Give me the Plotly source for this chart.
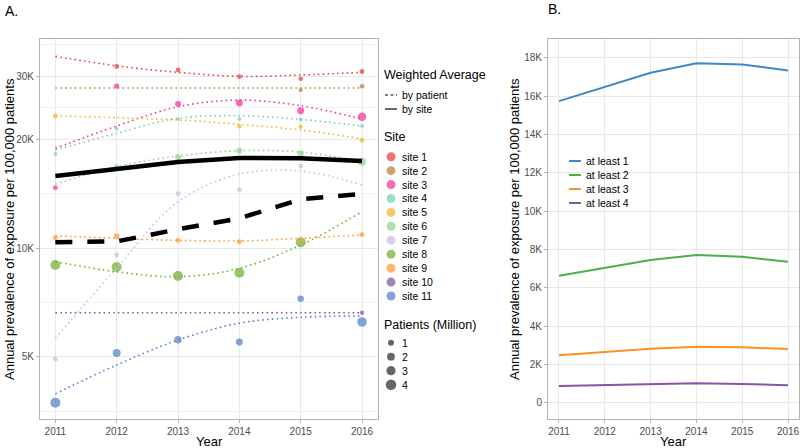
import plotly.graph_objects as go

W, H = 800, 448

years = [2011, 2012, 2013, 2014, 2015, 2016]

sites = ["site 1", "site 2", "site 3", "site 4", "site 5", "site 6",
         "site 7", "site 8", "site 9", "site 10", "site 11"]
site_colors = ["#E8464B", "#B98646", "#F23A9C", "#7ED0BC", "#EEB933", "#93D497",
               "#CDBFE2", "#76B23C", "#FF9A3A", "#8856AE", "#5886CA"]

# observed annual prevalence per 100,000 patients (None = no point)
site1_prev = [None, 31900, 31200, 29900, 29500, 30900]
site2_prev = [None, None, None, None, 27450, 28110]
site3_prev = [14720, 28160, 25100, 25260, 24050, 23150]
site4_prev = [18250, 21490, 22810, 22810, 22760, 21820]
site5_prev = [23260, None, None, 21750, 21720, 19920]
site6_prev = [None, 16830, 17870, 18640, 18330, 17380]
site7_prev = [4935, 9580, 14160, 14530, 16900, None]
site8_prev = [8990, 8875, 8380, 8560, 10390, None]
site9_prev = [10700, 10820, 10520, 10430, 10540, 10900]
site10_prev = [None, None, None, None, None, 6630]
site11_prev = [3735, 5130, 5580, 5500, 7250, 6250]

# smoothed trend per site
site1_fit = [34030, 32050, 30730, 29960, 30210, 30730]
site2_fit = [27800, 27800, 27800, 27800, 27800, 27800]
site3_fit = [18920, 21820, 24670, 25750, 24830, 22810]
site4_fit = [18720, 20830, 22920, 23300, 22760, 21820]
site5_fit = [23260, 23010, 22670, 22060, 21270, 20120]
site6_fit = [15040, 16830, 18020, 18640, 18480, 17380]
site7_fit = [5630, 8820, 13460, 16060, 16370, 14970]
site8_fit = [9180, 8610, 8340, 8800, 10210, 12630]
site9_fit = [10820, 10660, 10520, 10480, 10660, 10890]
site10_fit = [6630, 6630, 6630, 6630, 6630, 6630]
site11_fit = [3950, 4750, 5570, 6200, 6440, 6490]

# patients (million)
site1_pat = [0, 0.5, 0.5, 0.4, 0.4, 0.5]
site2_pat = [0, 0, 0, 0, 0.3, 0.5]
site3_pat = [0.5, 0.7, 1.0, 1.5, 1.5, 2.5]
site4_pat = [0.2, 0.2, 0.15, 0.15, 0.15, 0.2]
site5_pat = [0.5, 0, 0, 0.3, 0.3, 0.5]
site6_pat = [0, 0.6, 1.0, 1.0, 1.2, 2.1]
site7_pat = [0.5, 0.5, 0.5, 0.5, 0.5, 0]
site8_pat = [3.6, 3.6, 3.6, 3.6, 3.6, 0]
site9_pat = [0.5, 0.8, 0.5, 0.5, 0.5, 0.5]
site10_pat = [0, 0, 0, 0, 0, 0.3]
site11_pat = [3.6, 2.1, 1.8, 1.5, 1.2, 3.2]

by_patient = [10400, 10450, 11290, 12110, 13670, 14140]
by_site = [15860, 16550, 17340, 17790, 17760, 17450]

size_legend = [1, 2, 3, 4]

# panel B
b_names = ["at least 1", "at least 2", "at least 3", "at least 4"]
b_colors = ["#3B89C8", "#4DAF4A", "#FF9025", "#8C52A6"]
at_least_1 = [15740, 16470, 17220, 17710, 17650, 17340]
at_least_2 = [6630, 7030, 7450, 7710, 7620, 7350]
at_least_3 = [2475, 2650, 2820, 2920, 2890, 2800]
at_least_4 = [870, 925, 975, 1010, 975, 910]

site_prev = [site1_prev, site2_prev, site3_prev, site4_prev, site5_prev, site6_prev,
             site7_prev, site8_prev, site9_prev, site10_prev, site11_prev]
site_fit = [site1_fit, site2_fit, site3_fit, site4_fit, site5_fit, site6_fit,
            site7_fit, site8_fit, site9_fit, site10_fit, site11_fit]
site_pat = [site1_pat, site2_pat, site3_pat, site4_pat, site5_pat, site6_pat,
            site7_pat, site8_pat, site9_pat, site10_pat, site11_pat]
b_series = [at_least_1, at_least_2, at_least_3, at_least_4]

FONT = "Liberation Sans, Arial, sans-serif"


def dot(p):
    # point diameter (px) for patients in millions
    return (11.3 + 24.7 * p) ** 0.5


def fx(px):
    return px / W


def fy(py):
    return 1 - py / H


fig = go.Figure()

# site points
for name, col, prev, pat in zip(sites, site_colors, site_prev, site_pat):
    fig.add_trace(go.Scatter(
        x=years, y=prev, mode="markers", name=name,
        marker=dict(color=col, size=[dot(p) for p in pat], opacity=0.75, line=dict(width=0)),
        xaxis="x", yaxis="y", showlegend=False))

# site trend lines
for name, col, fit in zip(sites, site_colors, site_fit):
    fig.add_trace(go.Scatter(
        x=years, y=fit, mode="lines", name=name,
        line=dict(color=col, width=1.6, dash="1.6px,3.2px", shape="spline"),
        xaxis="x", yaxis="y", showlegend=False))

fig.add_trace(go.Scatter(x=years, y=by_site, mode="lines", name="by site",
                         line=dict(color="black", width=4.5),
                         xaxis="x", yaxis="y", showlegend=False))
fig.add_trace(go.Scatter(x=years, y=by_patient, mode="lines", name="by patient",
                         line=dict(color="black", width=4.5, dash="17px,15px"),
                         xaxis="x", yaxis="y", showlegend=False))

for name, col, vals in zip(b_names, b_colors, b_series):
    fig.add_trace(go.Scatter(x=years, y=vals, mode="lines", name=name,
                             line=dict(color=col, width=2),
                             xaxis="x2", yaxis="y2", showlegend=False))

axis_common = dict(
    showline=True, mirror=True, linecolor="#B3B3B3", linewidth=1,
    ticks="outside", ticklen=3, tickcolor="#B3B3B3", tickwidth=1,
    showgrid=True, gridcolor="#E8E8E8", gridwidth=1, zeroline=False,
    tickfont=dict(family=FONT, size=10, color="#4D4D4D"),
)

ydom = [fy(419), fy(39)]

fig.update_layout(
    width=W, height=H,
    margin=dict(l=0, r=0, t=0, b=0),
    paper_bgcolor="white", plot_bgcolor="white",
    showlegend=False,
    xaxis=dict(domain=[fx(40), fx(378)], range=[2010.75, 2016.26], anchor="y",
               tickvals=years, **axis_common),
    yaxis=dict(domain=ydom, type="log", range=[3.527, 4.580], anchor="x",
               tickvals=[5000, 10000, 20000, 30000], ticktext=["5K", "10K", "20K", "30K"],
               minor=dict(tickvals=[3536, 7071, 14142, 24495, 36742], showgrid=True,
                          gridcolor="#F2F2F2", gridwidth=1, ticks=""),
               **axis_common),
    xaxis2=dict(domain=[fx(548), fx(799)], range=[2010.76, 2016.24], anchor="y2",
                tickvals=years, **axis_common),
    yaxis2=dict(domain=ydom, range=[-850, 18980], anchor="x2",
                tickvals=[0, 2000, 4000, 6000, 8000, 10000, 12000, 14000, 16000, 18000],
                ticktext=["0", "2K", "4K", "6K", "8K", "10K", "12K", "14K", "16K", "18K"],
                **axis_common),
)

annotations = []
shapes = []


def text(x, y, s, size, xanchor="left", angle=0, color="black"):
    annotations.append(dict(x=fx(x), y=fy(y), xref="paper", yref="paper", text=s,
                            showarrow=False, xanchor=xanchor, yanchor="middle",
                            textangle=angle, font=dict(family=FONT, size=size, color=color)))


def circle(cx, cy, d, col, op):
    r = d / 2
    shapes.append(dict(type="circle", xref="paper", yref="paper",
                       x0=fx(cx - r), x1=fx(cx + r), y0=fy(cy + r), y1=fy(cy - r),
                       fillcolor=col, opacity=op, line=dict(width=0), layer="above"))


def hline(x0, x1, y, col, width, dash="solid"):
    shapes.append(dict(type="line", xref="paper", yref="paper",
                       x0=fx(x0), x1=fx(x1), y0=fy(y), y1=fy(y),
                       line=dict(color=col, width=width, dash=dash), layer="above"))


# panel labels and axis titles
text(3, 11, "A.", 14)
text(546, 9, "B.", 14)
ytitle = "Annual prevalence of exposure per 100,000 patients"
text(9, 229, ytitle, 13, xanchor="center", angle=-90)
text(514, 229, ytitle, 13, xanchor="center", angle=-90)
text(209, 441, "Year", 13, xanchor="center")
text(673, 441, "Year", 13, xanchor="center")

# legend of panel A
text(382, 75, "Weighted Average", 12.5)
hline(385, 397, 95, "black", 1.2, "3px,2.5px")
text(400, 95, "by patient", 10.5)
hline(385, 397, 109, "black", 1.2)
text(400, 109, "by site", 10.5)

text(382, 137, "Site", 12.5)
for i, (name, col) in enumerate(zip(sites, site_colors)):
    cy = 156.7 + i * 13.93
    circle(391, cy, 9, col, 0.75)
    text(400, cy, name, 10.5)

text(382, 325, "Patients (Million)", 12.5)
for i, s in enumerate(size_legend):
    cy = 342.7 + i * 14
    circle(391, cy, dot(s), "#333333", 0.75)
    text(400, cy, str(s), 10.5)

# legend of panel B
for i, (name, col) in enumerate(zip(b_names, b_colors)):
    cy = 161 + i * 14
    hline(569, 581, cy, col, 2)
    text(584, cy, name, 10.5)

fig.update_layout(annotations=annotations, shapes=shapes)

# the page has a default 8px body margin; drop it so the figure fills the window
fig.write_html("out.html", config={"displayModeBar": False},
               post_script="document.body.style.margin = '0px';")
